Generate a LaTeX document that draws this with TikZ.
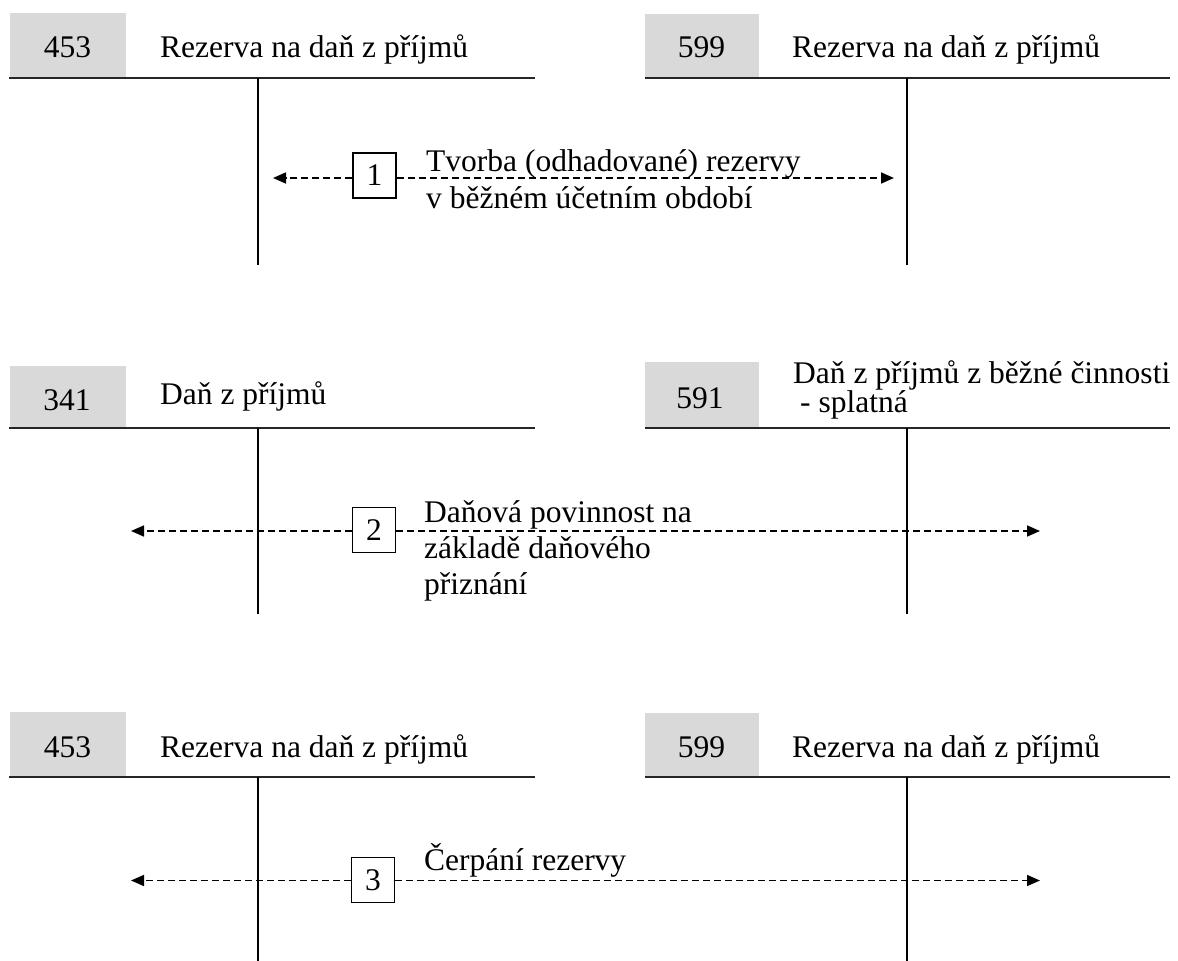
\documentclass[tikz,border=0pt]{standalone}
\usepackage{fontspec}
\setmainfont{Liberation Serif}
\usetikzlibrary{arrows.meta}
\definecolor{accgray}{HTML}{D9D9D9}
\begin{document}
\begin{tikzpicture}[x=1pt,y=-1pt,
  font=\fontsize{31.5}{36}\selectfont,
  accbox/.style={fill=accgray, inner sep=0pt},
  accnum/.style={anchor=base, inner sep=0pt},
  acctitle/.style={anchor=base west, inner sep=0pt},
  tline/.style={line width=2.2pt, color=black!85},
  vline/.style={line width=1.4pt},
  numbox/.style={draw, line width=1.4pt, fill=white, inner sep=0pt, minimum width=43pt, minimum height=45pt},
  flow/.style={dash pattern=on 7pt off 4pt, line width=1.6pt, -{Triangle[length=13pt,width=11pt]}},
  note/.style={anchor=base west, inner sep=0pt}]
\useasboundingbox (0,0) rectangle (1178,961);

% ---------- panel 1 ----------
\node[accbox, minimum width=116pt, minimum height=64pt] (g453a) at (68,45) {};
\node[accnum] (c453a) at (67.5,57) {453};
\node[acctitle] (t453a) at (160,57) {Rezerva na daň z příjmů};
\node[accbox, minimum width=114pt, minimum height=63pt] (g599a) at (702,45.5) {};
\node[accnum] (c599a) at (701.5,57) {599};
\node[acctitle] (t599a) at (792,57) {Rezerva na daň z příjmů};
\draw[tline] (9,78) -- (535,78);
\draw[tline] (645,78) -- (1170,78);
\draw[vline] (258,78) -- (258,265);
\draw[vline] (907,78) -- (907,265);
\node[numbox] (n1) at (374.5,175.5) {1};
\coordinate (l1) at (273,178);
\coordinate (r1) at (894,178);
\draw[flow] (n1.west |- l1) -- (l1);
\draw[flow] (n1.east |- r1) -- (r1);
\node[note] (d1a) at (426,171) {Tvorba (odhadované) rezervy};
\node[note] (d1b) at (426,208) {v běžném účetním období};

% ---------- panel 2 ----------
\node[accbox, minimum width=116pt, minimum height=61pt] (g341) at (68,396.5) {};
\node[accnum] (c341) at (67,410) {341};
\node[acctitle] (t341) at (160,404) {Daň z příjmů};
\node[accbox, minimum width=114pt, minimum height=65pt] (g591) at (702,394.5) {};
\node[accnum] (c591) at (700,408) {591};
\node[acctitle] (t591a) at (793,383) {Daň z příjmů z běžné činnosti};
\node[acctitle] (t591b) at (800,412) {- splatná};
\draw[tline] (9,428) -- (535,428);
\draw[tline] (645,428) -- (1170,428);
\draw[vline] (258,428) -- (258,614);
\draw[vline] (907,428) -- (907,614);
\node[numbox] (n2) at (374,530) {2};
\coordinate (l2) at (131,531);
\coordinate (r2) at (1040,531);
\draw[flow] (n2.west |- l2) -- (l2);
\draw[flow] (n2.east |- r2) -- (r2);
\node[note] (d2a) at (424,522) {Daňová povinnost na};
\node[note] (d2b) at (424,558) {základě daňového};
\node[note] (d2c) at (424,594) {přiznání};

% ---------- panel 3 ----------
\node[accbox, minimum width=116pt, minimum height=64pt] (g453b) at (68,744) {};
\node[accnum] (c453b) at (67.5,757) {453};
\node[acctitle] (t453b) at (160,757) {Rezerva na daň z příjmů};
\node[accbox, minimum width=114pt, minimum height=63pt] (g599b) at (702,744.5) {};
\node[accnum] (c599b) at (701.5,757) {599};
\node[acctitle] (t599b) at (792,757) {Rezerva na daň z příjmů};
\draw[tline] (9,777) -- (535,777);
\draw[tline] (645,777) -- (1170,777);
\draw[vline] (258,777) -- (258,961);
\draw[vline] (907,777) -- (907,961);
\node[numbox] (n3) at (373,880) {3};
\coordinate (l3) at (131,880.5);
\coordinate (r3) at (1040,880.5);
\draw[flow] (n3.west |- l3) -- (l3);
\draw[flow] (n3.east |- r3) -- (r3);
\node[note] (d3a) at (424,870) {Čerpání rezervy};
\end{tikzpicture}
\end{document}
